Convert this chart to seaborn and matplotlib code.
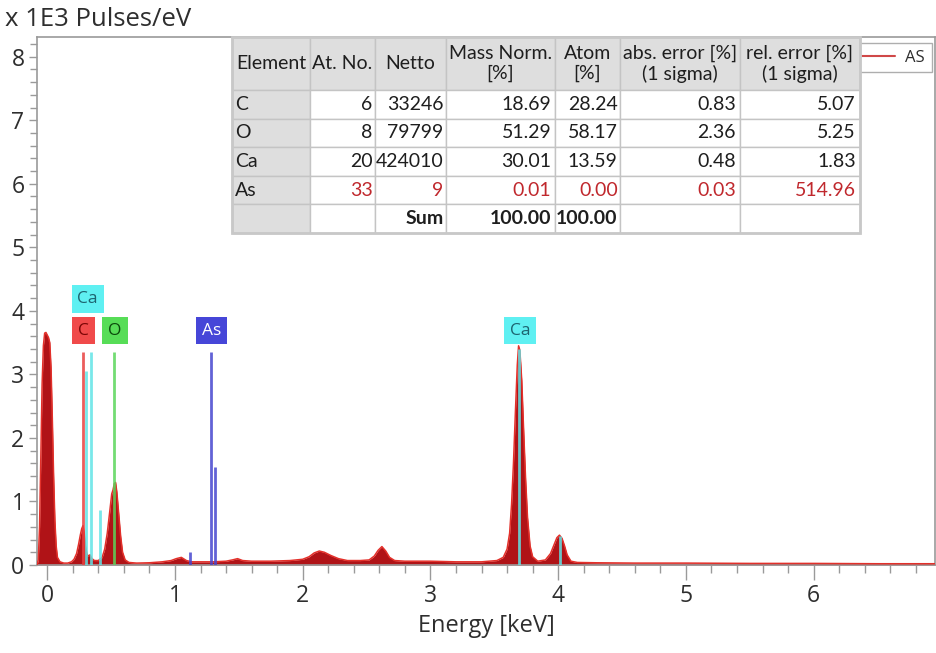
import matplotlib
matplotlib.use("Agg")
import matplotlib.pyplot as plt
from matplotlib.ticker import MultipleLocator
from matplotlib.table import Table
from matplotlib.lines import Line2D
from matplotlib.patches import Rectangle
import numpy as np
import pandas as pd
import seaborn as sns

# ---- EDX spectrum (x 1E3 pulses/eV vs energy in keV) ----
energy = [
    -0.08, -0.07, -0.06, -0.05, -0.04, -0.03, -0.02, -0.01, 0.00, 0.01,
    0.02, 0.03, 0.04, 0.05, 0.06, 0.07, 0.08, 0.10, 0.13, 0.16,
    0.19, 0.21, 0.23, 0.245, 0.26, 0.27, 0.28, 0.29, 0.30, 0.31,
    0.32, 0.335, 0.35, 0.37, 0.40, 0.43, 0.45, 0.47, 0.49, 0.505,
    0.515, 0.525, 0.535, 0.545, 0.56, 0.575, 0.59, 0.61, 0.64, 0.70,
    0.80, 0.90, 0.97, 1.01, 1.05, 1.09, 1.13, 1.20, 1.30, 1.40,
    1.45, 1.49, 1.53, 1.60, 1.75, 1.90, 2.00, 2.05, 2.09, 2.13,
    2.17, 2.22, 2.28, 2.35, 2.45, 2.52, 2.56, 2.59, 2.62, 2.65,
    2.68, 2.72, 2.80, 3.00, 3.20, 3.40, 3.52, 3.57, 3.60, 3.62,
    3.635, 3.65, 3.665, 3.68, 3.69, 3.70, 3.715, 3.73, 3.745, 3.76,
    3.78, 3.80, 3.84, 3.90, 3.94, 3.97, 3.99, 4.01, 4.03, 4.05,
    4.07, 4.10, 4.15, 4.30, 4.60, 5.00, 5.50, 6.00, 6.50, 6.95,
]
counts = [
    0.00, 0.08, 0.60, 1.70, 2.85, 3.45, 3.65, 3.66, 3.62, 3.58,
    3.50, 3.10, 2.30, 1.40, 0.70, 0.30, 0.12, 0.05, 0.03, 0.03,
    0.05, 0.09, 0.18, 0.32, 0.48, 0.57, 0.62, 0.50, 0.30, 0.18,
    0.14, 0.16, 0.10, 0.07, 0.07, 0.12, 0.25, 0.50, 0.85, 1.12,
    1.18, 1.28, 1.30, 1.15, 0.80, 0.45, 0.20, 0.08, 0.04, 0.03,
    0.035, 0.05, 0.07, 0.10, 0.12, 0.07, 0.05, 0.05, 0.05, 0.06,
    0.08, 0.10, 0.07, 0.06, 0.06, 0.07, 0.09, 0.13, 0.19, 0.22,
    0.20, 0.15, 0.10, 0.07, 0.07, 0.08, 0.14, 0.23, 0.29, 0.22,
    0.12, 0.07, 0.06, 0.06, 0.05, 0.05, 0.07, 0.12, 0.25, 0.50,
    0.95, 1.60, 2.40, 3.15, 3.45, 3.38, 2.90, 2.10, 1.35, 0.75,
    0.30, 0.13, 0.06, 0.08, 0.18, 0.33, 0.43, 0.47, 0.42, 0.30,
    0.16, 0.06, 0.04, 0.035, 0.03, 0.03, 0.025, 0.025, 0.02, 0.02,
]

# ---- element line markers ----
line_element = ["C", "Ca", "Ca", "Ca", "O", "As", "As", "As", "Ca", "Ca"]
line_energy = [0.277, 0.302, 0.341, 0.415, 0.525, 1.120, 1.282, 1.317, 3.690, 4.013]
line_height = [3.35, 3.05, 3.35, 0.87, 3.35, 0.20, 3.35, 1.55, 3.40, 0.45]

label_element = ["Ca", "C", "O", "As", "Ca"]
label_energy = [0.317, 0.282, 0.530, 1.288, 3.700]
label_height = [4.19, 3.69, 3.69, 3.69, 3.69]

# ---- quantification table ----
tab_elements = ["C", "O", "Ca", "As"]
tab_at_no = [6, 8, 20, 33]
tab_netto = [33246, 79799, 424010, 9]
tab_mass_norm = [18.69, 51.29, 30.01, 0.01]
tab_atom = [28.24, 58.17, 13.59, 0.00]
tab_abs_err = [0.83, 2.36, 0.48, 0.03]
tab_rel_err = [5.07, 5.25, 1.83, 514.96]
tab_sum_mass = 100.00
tab_sum_atom = 100.00
tab_headers = ["Element", "At. No.", "Netto", "Mass Norm.\n[%]", "Atom\n[%]",
               "abs. error [%]\n(1 sigma)", "rel. error [%]\n(1 sigma)"]

# ---- styles ----
elem_line_color = {"C": "#e8413f", "Ca": "#62e4e6", "O": "#5bd65b", "As": "#4747cf"}
elem_box_face = {"C": "#f04a4a", "Ca": "#5ff0f2", "O": "#57dd57", "As": "#4646d8"}
elem_box_text = {"C": "#7a0505", "Ca": "#1d6470", "O": "#0b4a0b", "As": "#ffffff"}
axis_grey = "#9a9a9a"
text_dark = "#2e2e2e"

sns.set_theme(style="white")
plt.rcParams["font.family"] = ["Open Sans", "DejaVu Sans"]

W, H = 937, 653
fig = plt.figure(figsize=(W / 100, H / 100), dpi=100)
ax = fig.add_axes([37 / W, 88 / H, 898 / W, 528 / H])

df = pd.DataFrame({"Energy": energy, "Counts": counts})
ax.fill_between(df["Energy"], 0, df["Counts"], color="#b01317", lw=0, zorder=2)
sns.lineplot(data=df, x="Energy", y="Counts", ax=ax, color="#e3302a",
             lw=1.1, zorder=3, legend=False)

lines = pd.DataFrame({"element": line_element, "energy": line_energy,
                      "height": line_height})
for el, grp in lines.groupby("element"):
    ax.vlines(grp["energy"], 0, grp["height"], colors=elem_line_color[el],
              lw=2.0, alpha=0.85, zorder=4)

for el, x, y in zip(label_element, label_energy, label_height):
    ax.text(x, y, el, ha="center", va="center", fontsize=12.5,
            color=elem_box_text[el], zorder=6,
            bbox=dict(boxstyle="square,pad=0.34", fc=elem_box_face[el], ec="none"))

ax.set_xlim(-0.08, 6.95)
ax.set_ylim(0, 8.31)
ax.set_xticks(range(0, 7))
ax.set_yticks(range(0, 9))
ax.xaxis.set_minor_locator(MultipleLocator(0.2))
ax.yaxis.set_minor_locator(MultipleLocator(0.2))
ax.tick_params(axis="x", which="major", bottom=True, length=11, width=1,
               color=axis_grey, labelsize=16.5, labelcolor=text_dark, pad=3)
ax.tick_params(axis="x", which="minor", bottom=True, length=6, width=1,
               color=axis_grey)
ax.tick_params(axis="y", which="major", left=True, length=6, width=1,
               color=axis_grey, labelsize=16.5, labelcolor=text_dark, pad=3)
ax.tick_params(axis="y", which="minor", left=True, length=5, width=1,
               color=axis_grey)
for sp in ax.spines.values():
    sp.set_color(axis_grey)
    sp.set_linewidth(1.2)
ax.set_xlabel("Energy [keV]", fontsize=17, color=text_dark, labelpad=4)
ax.set_ylabel("")
fig.text(5 / W, 1 - 19 / H, "x 1E3 Pulses/eV", fontsize=18.5, color=text_dark,
         ha="left", va="center")

leg = ax.legend(handles=[Line2D([], [], color="#d04848", lw=1.5)], labels=["AS"],
                loc="upper right", bbox_to_anchor=(1.0, 0.995),
                borderaxespad=0.2, frameon=True, fancybox=False,
                edgecolor="#9a9a9a", fontsize=12, handlelength=2.0,
                handletextpad=0.6, labelcolor=text_dark)
leg.get_frame().set_linewidth(1.0)

# ---- table drawn in its own axes ----
tx0, ty0, tw, th = 232, 233, 628, 196
tax = fig.add_axes([tx0 / W, 1 - ty0 / H, tw / W, th / H], zorder=10)
tax.set_axis_off()
col_w = [78, 65, 71, 109, 65, 120, 120]
row_h = [53] + [28.6] * 5
grey_cell = "#dedede"
red_txt = "#c0282d"

rows = []
for i in range(len(tab_elements)):
    rows.append([tab_elements[i], f"{tab_at_no[i]}", f"{tab_netto[i]}",
                 f"{tab_mass_norm[i]:.2f}", f"{tab_atom[i]:.2f}",
                 f"{tab_abs_err[i]:.2f}", f"{tab_rel_err[i]:.2f}"])
rows.append(["", "", "Sum", f"{tab_sum_mass:.2f}", f"{tab_sum_atom:.2f}", "", ""])

tab = Table(tax, bbox=[0, 0, 1, 1])
for c, hdr in enumerate(tab_headers):
    cell = tab.add_cell(0, c, width=col_w[c] / tw, height=row_h[0] / th,
                        text=hdr, loc="center", facecolor=grey_cell,
                        edgecolor="#c4c4c4")
for r, vals in enumerate(rows, start=1):
    for c, v in enumerate(vals):
        cell = tab.add_cell(r, c, width=col_w[c] / tw, height=row_h[r] / th,
                            text=v, loc="left" if c == 0 else "right",
                            facecolor=grey_cell if c == 0 else "white",
                            edgecolor="#c4c4c4")
        cell.PAD = 0.035
        t = cell.get_text()
        if r == 4 and c > 0:
            t.set_color(red_txt)
        if r == 5:
            t.set_fontweight("bold")
for cell in tab.get_celld().values():
    cell.get_text().set_fontfamily(["Lato", "DejaVu Sans"])
    if cell.get_text().get_color() != red_txt:
        cell.get_text().set_color("#1e1e1e")
    cell.set_linewidth(1.0)
tab.auto_set_font_size(False)
tab.set_fontsize(14)
tax.add_table(tab)
tax.add_patch(Rectangle((0, 0), 1, 1, transform=tax.transAxes, fill=False,
                        ec="#c8c8c8", lw=2.0, clip_on=False, zorder=20))

fig.savefig("out.png", dpi=100, facecolor="white")
